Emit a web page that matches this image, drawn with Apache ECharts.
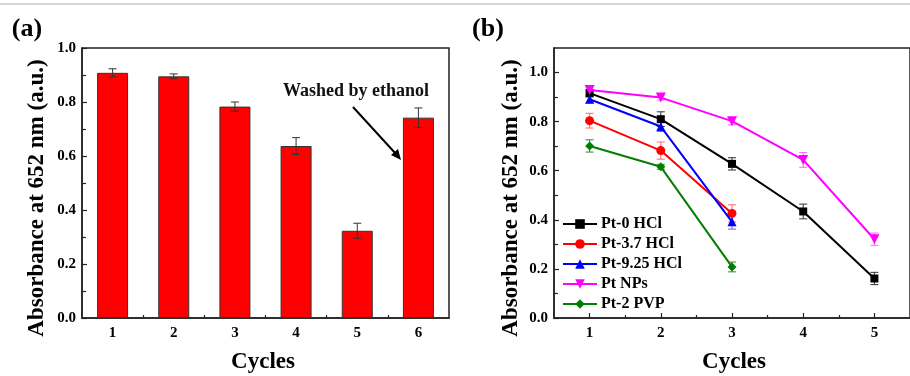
<!DOCTYPE html>
<html>
<head>
<meta charset="utf-8">
<script src="https://cdn.jsdelivr.net/npm/echarts@6/dist/echarts.min.js"></script>
<style>html,body{margin:0;padding:0;background:#fff;}#c{width:910px;height:376px;}</style>
</head>
<body>
<div id="c"></div>
<script>
// ---- Data ----
const cyclesA = [1, 2, 3, 4, 5, 6];
const absorbA = [0.908, 0.895, 0.783, 0.637, 0.323, 0.742];
const errA = [0.015, 0.009, 0.017, 0.031, 0.028, 0.036];

const cyclesB = [1, 2, 3, 4, 5];
const pt0HCl = [0.916, 0.810, 0.628, 0.434, 0.161];
const pt0HClErr = [0.015, 0.030, 0.025, 0.030, 0.025];
const pt37HCl = [0.804, 0.682, 0.426];
const pt37HClErr = [0.030, 0.035, 0.035];
const pt925HCl = [0.891, 0.780, 0.392];
const pt925HClErr = [0.015, 0.020, 0.030];
const ptNPs = [0.929, 0.898, 0.802, 0.644, 0.321];
const ptNPsErr = [0.015, 0.010, 0.015, 0.030, 0.025];
const pt2PVP = [0.701, 0.616, 0.208];
const pt2PVPErr = [0.025, 0.010, 0.020];

const seriesNamesB = ['Pt-0 HCl', 'Pt-3.7 HCl', 'Pt-9.25 HCl', 'Pt NPs', 'Pt-2 PVP'];
const yTickLabels = [0, 0.2, 0.4, 0.6, 0.8, 1.0];
const yMinorTicks = [0.1, 0.3, 0.5, 0.7, 0.9];
const xMinorA = [1.5, 2.5, 3.5, 4.5, 5.5];
const xMinorB = [1.5, 2.5, 3.5, 4.5];
const annotationText = 'Washed by ethanol';
const yTitle = 'Absorbance at 652 nm (a.u.)';
const xTitle = 'Cycles';

// ---- Styles ----
const FONT = 'Liberation Serif';
const AXIS_COLOR = '#222';
const colorsB = ['#000000', '#ff0000', '#0000ff', '#ff00ff', '#008000'];
const errColorsB = ['#333333', '#ff6666', '#6666ff', '#ff66ff', '#2e8b2e'];
const symbolsB = ['rect', 'circle', 'triangle', 'path://M0,0 L10,0 L5,10 Z', 'diamond'];
const symbolSizesB = [8, 9, 9, 10, 9];

const labelStyle = { color: '#000', fontFamily: FONT, fontWeight: 'bold', fontSize: 15 };

function pairs(xs, ys) { return ys.map((v, i) => [xs[i], v]); }
function errData(xs, ys, es) { return ys.map((v, i) => [xs[i], v - es[i], v + es[i]]); }

function errRender(color, cap) {
  return function (params, api) {
    const x = api.value(0);
    const lo = api.coord([x, api.value(1)]);
    const hi = api.coord([x, api.value(2)]);
    const st = { stroke: color, lineWidth: 1 };
    return {
      type: 'group',
      children: [
        { type: 'line', shape: { x1: hi[0], y1: hi[1], x2: lo[0], y2: lo[1] }, style: st },
        { type: 'line', shape: { x1: hi[0] - cap, y1: hi[1], x2: hi[0] + cap, y2: hi[1] }, style: st },
        { type: 'line', shape: { x1: lo[0] - cap, y1: lo[1], x2: lo[0] + cap, y2: lo[1] }, style: st }
      ]
    };
  };
}

function mainX(gridIndex, min, max, ticks) {
  return {
    type: 'value', gridIndex, min, max, position: 'bottom',
    axisLine: { show: true, onZero: false, lineStyle: { color: AXIS_COLOR, width: 1.5 } },
    axisTick: { show: true, inside: true, length: 5, customValues: ticks, lineStyle: { color: AXIS_COLOR, width: 1.2 } },
    axisLabel: Object.assign({ customValues: ticks, margin: 8 }, labelStyle),
    splitLine: { show: false }
  };
}
function minorX(gridIndex, min, max, ticks) {
  return {
    type: 'value', gridIndex, min, max, position: 'bottom', offset: 0,
    axisLine: { show: false, onZero: false },
    axisTick: { show: true, inside: true, length: 3, customValues: ticks, lineStyle: { color: AXIS_COLOR, width: 1.2 } },
    axisLabel: { show: false },
    splitLine: { show: false }
  };
}
function mainY(gridIndex, max) {
  return {
    type: 'value', gridIndex, min: 0, max, position: 'left',
    axisLine: { show: true, onZero: false, lineStyle: { color: AXIS_COLOR, width: 1.5 } },
    axisTick: { show: true, inside: true, length: 5, customValues: yTickLabels, lineStyle: { color: AXIS_COLOR, width: 1.2 } },
    axisLabel: Object.assign({ customValues: yTickLabels, margin: 6, formatter: v => v.toFixed(1) }, labelStyle),
    splitLine: { show: false }
  };
}
function minorY(gridIndex, max) {
  return {
    type: 'value', gridIndex, min: 0, max, position: 'left', offset: 0,
    axisLine: { show: false, onZero: false },
    axisTick: { show: true, inside: true, length: 4, customValues: yMinorTicks, lineStyle: { color: AXIS_COLOR, width: 1.2 } },
    axisLabel: { show: false },
    splitLine: { show: false }
  };
}

const series = [];
// Panel (a) bars
series.push({
  type: 'bar', xAxisIndex: 0, yAxisIndex: 0, barWidth: 31,
  data: pairs(cyclesA, absorbA),
  itemStyle: { color: '#ff0000', borderColor: '#333', borderWidth: 1 },
  silent: true, z: 2
});
series.push({
  type: 'custom', xAxisIndex: 0, yAxisIndex: 0,
  data: errData(cyclesA, absorbA, errA),
  renderItem: errRender('#333', 4), silent: true, z: 3
});

// Panel (b) lines
const valsB = [pt0HCl, pt37HCl, pt925HCl, ptNPs, pt2PVP];
const errsB = [pt0HClErr, pt37HClErr, pt925HClErr, ptNPsErr, pt2PVPErr];
valsB.forEach((vals, k) => {
  series.push({
    type: 'custom', xAxisIndex: 2, yAxisIndex: 2,
    data: errData(cyclesB, vals, errsB[k]),
    renderItem: errRender(errColorsB[k], 4), silent: true, z: 2
  });
});
valsB.forEach((vals, k) => {
  series.push({
    name: seriesNamesB[k], type: 'line', xAxisIndex: 2, yAxisIndex: 2,
    data: pairs(cyclesB, vals),
    symbol: symbolsB[k], symbolSize: symbolSizesB[k], showAllSymbol: true,
    lineStyle: { color: colorsB[k], width: 2 },
    itemStyle: { color: colorsB[k] },
    silent: true, z: 4 + k, animation: false
  });
});

const option = {
  animation: false,
  backgroundColor: '#fff',
  grid: [
    { left: 82, top: 48, width: 367, height: 270, show: true, borderColor: AXIS_COLOR, borderWidth: 1.5, backgroundColor: 'transparent' },
    { left: 554, top: 48, width: 366, height: 270, show: true, borderColor: AXIS_COLOR, borderWidth: 1.5, backgroundColor: 'transparent' }
  ],
  xAxis: [
    mainX(0, 0.5, 6.5, cyclesA),
    minorX(0, 0.5, 6.5, xMinorA),
    mainX(1, 0.5, 5.5, cyclesB),
    minorX(1, 0.5, 5.5, xMinorB)
  ],
  yAxis: [
    mainY(0, 1.0),
    minorY(0, 1.0),
    mainY(1, 1.1),
    minorY(1, 1.1)
  ],
  legend: {
    orient: 'vertical', left: 562, top: 216, padding: 0,
    itemWidth: 34, itemHeight: 12, itemGap: 4,
    data: seriesNamesB,
    textStyle: { color: '#000', fontFamily: FONT, fontWeight: 'bold', fontSize: 16, lineHeight: 16, padding: [0, 0, 0, -1] },
    selectedMode: false
  },
  series,
  graphic: [
    { type: 'line', shape: { x1: 0, y1: 4, x2: 910, y2: 4 }, style: { stroke: '#c8c8c8', lineWidth: 1.5 }, silent: true },
    { type: 'text', x: 27, y: 29, style: { text: '(a)', font: 'bold 26px "Liberation Serif"', fill: '#000', textAlign: 'center', textVerticalAlign: 'middle' } },
    { type: 'text', x: 488, y: 29, style: { text: '(b)', font: 'bold 26px "Liberation Serif"', fill: '#000', textAlign: 'center', textVerticalAlign: 'middle' } },
    { type: 'text', x: 37, y: 198, rotation: Math.PI / 2, style: { text: yTitle, font: 'bold 23px "Liberation Serif"', fill: '#000', textAlign: 'center', textVerticalAlign: 'middle' } },
    { type: 'text', x: 511, y: 198, rotation: Math.PI / 2, style: { text: yTitle, font: 'bold 23px "Liberation Serif"', fill: '#000', textAlign: 'center', textVerticalAlign: 'middle' } },
    { type: 'text', x: 263, y: 362, style: { text: xTitle, font: 'bold 23px "Liberation Serif"', fill: '#000', textAlign: 'center', textVerticalAlign: 'middle' } },
    { type: 'text', x: 734, y: 362, style: { text: xTitle, font: 'bold 23px "Liberation Serif"', fill: '#000', textAlign: 'center', textVerticalAlign: 'middle' } },
    { type: 'text', x: 356, y: 91, style: { text: annotationText, font: 'bold 18px "Liberation Serif"', fill: '#111', textAlign: 'center', textVerticalAlign: 'middle' } },
    { type: 'line', shape: { x1: 353, y1: 107, x2: 396, y2: 154 }, style: { stroke: '#000', lineWidth: 2 } },
    { type: 'polygon', shape: { points: [[401, 160], [391, 155], [398, 149]] }, style: { fill: '#000' } }
  ]
};

const chart = echarts.init(document.getElementById('c'), null, { renderer: 'canvas' });
chart.setOption(option);
</script>
</body>
</html>
